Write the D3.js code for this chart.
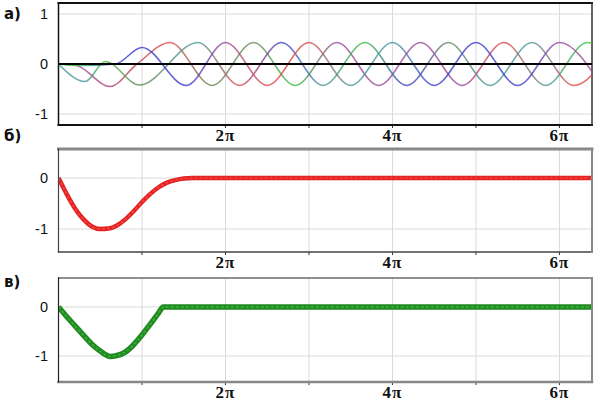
<!DOCTYPE html>
<html>
<head>
<meta charset="utf-8">
<title>Oscillations a, b, c</title>
<script src="https://d3js.org/d3.v7.min.js"></script>
<style>
  body { margin: 0; background: #fff; }
  text { font-family: "Liberation Sans", Arial, sans-serif; fill: #111; }
  .ylab { font-size: 14.5px; text-anchor: end; }
  .xlab { font-size: 17px; font-weight: bold; font-family: "Liberation Serif", serif; text-anchor: middle; letter-spacing: 1px; }
  .plab { font-size: 15px; font-weight: bold; font-family: "DejaVu Sans", sans-serif; }
</style>
</head>
<body>
<div id="chart"></div>
<script>

// ---- data (time in units of pi) ----
// panel a: three oscillation slots, extrema
var slotA_t = [0, 0.2, 0.617, 0.94, 1.335, 1.84, 2.335, 2.835, 3.335, 3.835, 4.335, 4.835, 5.335, 5.835, 6.335, 6.835];
var slotA_v = [0, -0.02, -0.45, 0, 0.43, -0.43, 0.43, -0.43, 0.43, -0.43, 0.43, -0.43, 0.43, -0.43, 0.43, -0.43];

var slotB_t = [0, 0.32, 0.56, 0.97, 1.67, 2.17, 2.67, 3.17, 3.67, 4.17, 4.67, 5.17, 5.67, 6.17, 6.67];
var slotB_v = [0, -0.35, 0.05, -0.42, 0.43, -0.43, 0.43, -0.43, 0.43, -0.43, 0.43, -0.43, 0.43, -0.43, 0.43];

var slotC_t = [0, 0.25, 0.68, 1.0, 1.53, 2.0, 2.5, 3.0, 3.5, 4.0, 4.5, 5.0, 5.5, 6.0, 6.5];
var slotC_v = [0, -0.03, 0, 0.33, -0.43, 0.43, -0.43, 0.43, -0.43, 0.43, -0.43, 0.43, -0.43, 0.43, -0.43];

// panel b: error (red)
var errB_t = [0, 0.05, 0.1, 0.2, 0.3, 0.4, 0.5, 0.6, 0.7, 0.8, 0.9, 1.0, 1.1, 1.2, 1.3, 1.4, 1.5, 1.6, 6.39];
var errB_v = [0, -0.16, -0.32, -0.6, -0.81, -0.95, -1.0, -0.99, -0.93, -0.81, -0.65, -0.47, -0.31, -0.18, -0.09, -0.04, -0.01, 0, 0];

// panel c: error (green)
var errC_t = [0, 0.1, 0.2, 0.3, 0.4, 0.5, 0.62, 0.7, 0.8, 0.9, 1.0, 1.1, 1.2, 1.255, 6.39];
var errC_v = [0, -0.2, -0.39, -0.58, -0.76, -0.9, -1.01, -0.99, -0.92, -0.77, -0.57, -0.35, -0.12, 0, 0];

// tick values
var xGrid = [1, 2, 3, 4, 5, 6];
var xLabels = [2, 4, 6];

// colours along each slot (one per extremum)
var red = "#e04848", green = "#3cbf3c", blue = "#3c3cd0", purple = "#9a4a9a",
    teal = "#4a9a9a", olive = "#6a8a5a";
var slotA_c = [purple, purple, "#b04070", "#c84858", red, olive, olive, green, purple, purple, purple, purple, red, teal, green, green];
var slotB_c = [teal, teal, green, olive, teal, red, blue, teal, green, blue, olive, teal, teal, red, red];
var slotC_c = [green, green, blue, blue, blue, purple, red, red, teal, teal, blue, blue, blue, purple, purple];

// ---- layout ----
var width = 595, height = 401;
var left = 58.5, right = 592;

var svg = d3.select("#chart").append("svg")
    .attr("width", width)
    .attr("height", height);

var x = d3.scaleLinear().domain([0, 6.39]).range([left, right]);

// draws frame, grid and tick labels of one panel, returns its y scale
function panel(id, top, bottom, yDomain, yTicks, label, labelY, border) {
    var y = d3.scaleLinear().domain(yDomain).range([bottom, top]);
    var g = svg.append("g").attr("id", id);

    g.append("clipPath").attr("id", "clip-" + id)
        .append("rect")
        .attr("x", left).attr("y", top)
        .attr("width", right - left).attr("height", bottom - top);

    // grid
    g.selectAll(".vg").data(xGrid).enter().append("line")
        .attr("x1", d => x(d)).attr("x2", d => x(d))
        .attr("y1", top).attr("y2", bottom)
        .style("stroke", "#dadada");
    g.selectAll(".hg").data(yTicks).enter().append("line")
        .attr("x1", left).attr("x2", right)
        .attr("y1", d => y(d)).attr("y2", d => y(d))
        .style("stroke", "#dadada");

    // ticks under the axis
    g.selectAll(".tk").data(xGrid).enter().append("line")
        .attr("x1", d => x(d)).attr("x2", d => x(d))
        .attr("y1", bottom).attr("y2", bottom + 3)
        .style("stroke", "#333");

    g.selectAll(".xl").data(xLabels).enter().append("text")
        .attr("class", "xlab")
        .attr("x", d => x(d))
        .attr("y", bottom + 16)
        .text(d => d + "\u03C0");

    g.selectAll(".yl").data(yTicks).enter().append("text")
        .attr("class", "ylab")
        .attr("x", 48)
        .attr("y", d => y(d))
        .attr("dy", "0.36em")
        .text(d => d < 0 ? "-" + Math.abs(d) : d);

    g.append("text").attr("class", "plab")
        .attr("x", 4).attr("y", labelY)
        .text(label);

    // frame, side by side
    var sides = [
        [left, top, right, top, border.top],
        [left, bottom, right, bottom, border.bottom],
        [left, top, left, bottom, border.left],
        [right, top, right, bottom, border.right]
    ];
    var frame = g.append("g").attr("class", "frame");
    frame.selectAll("line").data(sides).enter().append("line")
        .attr("x1", d => d[0]).attr("y1", d => d[1])
        .attr("x2", d => d[2]).attr("y2", d => d[3])
        .style("stroke", d => d[4][0])
        .style("stroke-width", d => d[4][1])
        .style("stroke-linecap", "square");

    return { y: y, g: g, clip: "url(#clip-" + id + ")", frame: frame };
}

var pa = panel("pa", 3, 125, [-1.22, 1.22], [1, 0, -1], "\u0430)", 19,
    { top: ["#111", 2], bottom: ["#111", 2], left: ["#111", 1.5], right: ["#333", 1.5] });
var pb = panel("pb", 149, 252, [-1.45, 0.57], [0, -1], "\u0431)", 141,
    { top: ["#888", 3], bottom: ["#444", 1.5], left: ["#444", 1.2], right: ["#888", 2] });
var pc = panel("pc", 278, 382, [-1.53, 0.59], [0, -1], "\u0432)", 287,
    { top: ["#222", 1.2], bottom: ["#888", 2.5], left: ["#222", 1.2], right: ["#888", 2] });

// ---- panel a: curves ----
var defs = svg.append("defs");
var slots = [
    { id: "A", t: slotA_t, v: slotA_v, c: slotA_c },
    { id: "B", t: slotB_t, v: slotB_v, c: slotB_c },
    { id: "C", t: slotC_t, v: slotC_v, c: slotC_c }
];

var lineA = d3.line()
    .x(d => x(d[0]))
    .y(d => pa.y(d[1]))
    .curve(d3.curveMonotoneX);

var curves = pa.g.append("g").attr("clip-path", pa.clip);
slots.forEach(function (s) {
    // colour changes along the curve, stop at each extremum
    var grad = defs.append("linearGradient")
        .attr("id", "grad" + s.id)
        .attr("gradientUnits", "userSpaceOnUse")
        .attr("x1", left).attr("x2", right)
        .attr("y1", 0).attr("y2", 0);
    grad.selectAll("stop").data(s.t).enter().append("stop")
        .attr("offset", d => Math.min(1, (x(d) - left) / (right - left)))
        .attr("stop-color", (d, i) => s.c[i]);

    curves.append("path")
        .datum(d3.zip(s.t, s.v))
        .attr("d", lineA)
        .style("fill", "none")
        .style("stroke", "url(#grad" + s.id + ")")
        .style("stroke-width", 1.6)
        .style("opacity", 0.8);
});

// thick zero line on top
pa.g.append("line")
    .attr("x1", left).attr("x2", right)
    .attr("y1", pa.y(0)).attr("y2", pa.y(0))
    .style("stroke", "#000")
    .style("stroke-width", 2);

// ---- panels b and c: thick bands ----
function band(p, t, v, dark, light, w) {
    var line = d3.line()
        .x(d => x(d[0]))
        .y(d => p.y(d[1]))
        .curve(d3.curveMonotoneX);
    var pts = d3.zip(t, v);
    var gg = p.g.append("g").attr("clip-path", p.clip);
    gg.append("path").datum(pts).attr("d", line)
        .style("fill", "none").style("stroke", dark)
        .style("stroke-width", w).style("stroke-linejoin", "round");
    gg.append("path").datum(pts).attr("d", line)
        .style("fill", "none").style("stroke", light)
        .style("stroke-width", w * 0.35)
        .style("stroke-dasharray", "3,2")
        .style("opacity", 0.6);
    p.frame.raise();
}

band(pb, errB_t, errB_v, "#e42222", "#ff5a5a", 4.5);
band(pc, errC_t, errC_v, "#1f8a1f", "#4cba4c", 5.5);

</script>
</body>
</html>
